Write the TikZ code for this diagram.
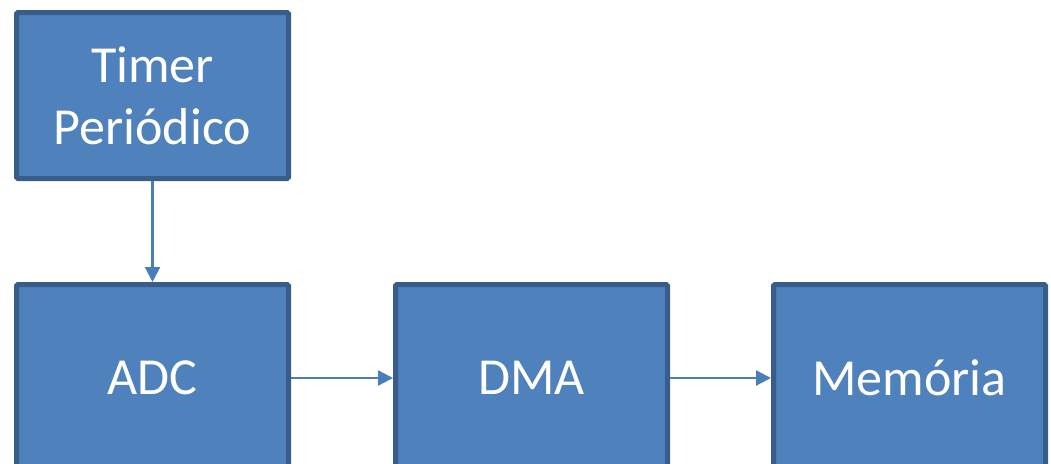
\documentclass[tikz,border=0pt]{standalone}
\usepackage{fontspec}
\setmainfont{Carlito}
\usepackage{tikz}
\usetikzlibrary{arrows.meta}
\usetikzlibrary{positioning}

\definecolor{boxfill}{HTML}{4F81BD}
\definecolor{boxline}{HTML}{385D8A}
\definecolor{arrowline}{HTML}{4A7EBB}

\begin{document}
\begin{tikzpicture}
			[x=1pt,y=-1pt,every node/.style={rectangle,fill=boxfill,draw=boxline,line width=5pt,
				rounded corners=1.5pt,minimum width=272pt,text=white,align=center,
				font=\fontsize{52}{62}\selectfont}]
			\useasboundingbox (0,0) rectangle (1051,463);
			\clip (0,0) rectangle (1051,463);
			\node[minimum height=166pt] (timer) at (152.5,95.5) {Timer\\Periódico};
			\node[minimum height=187pt] (adc) at (152.5,378) {ADC};
			\node[minimum height=187pt] (dma) at (531.5,378) {DMA};
			\node[minimum height=187pt] (mem) at (909.5,378) {Memória};
			
			\foreach \from/\to in 
			{timer/adc, adc/dma, dma/mem}
			\draw[arrowline,line width=2.3pt,-{Triangle[length=15pt,width=15pt]}] (\from) -- (\to);
			\end{tikzpicture}
\end{document}
